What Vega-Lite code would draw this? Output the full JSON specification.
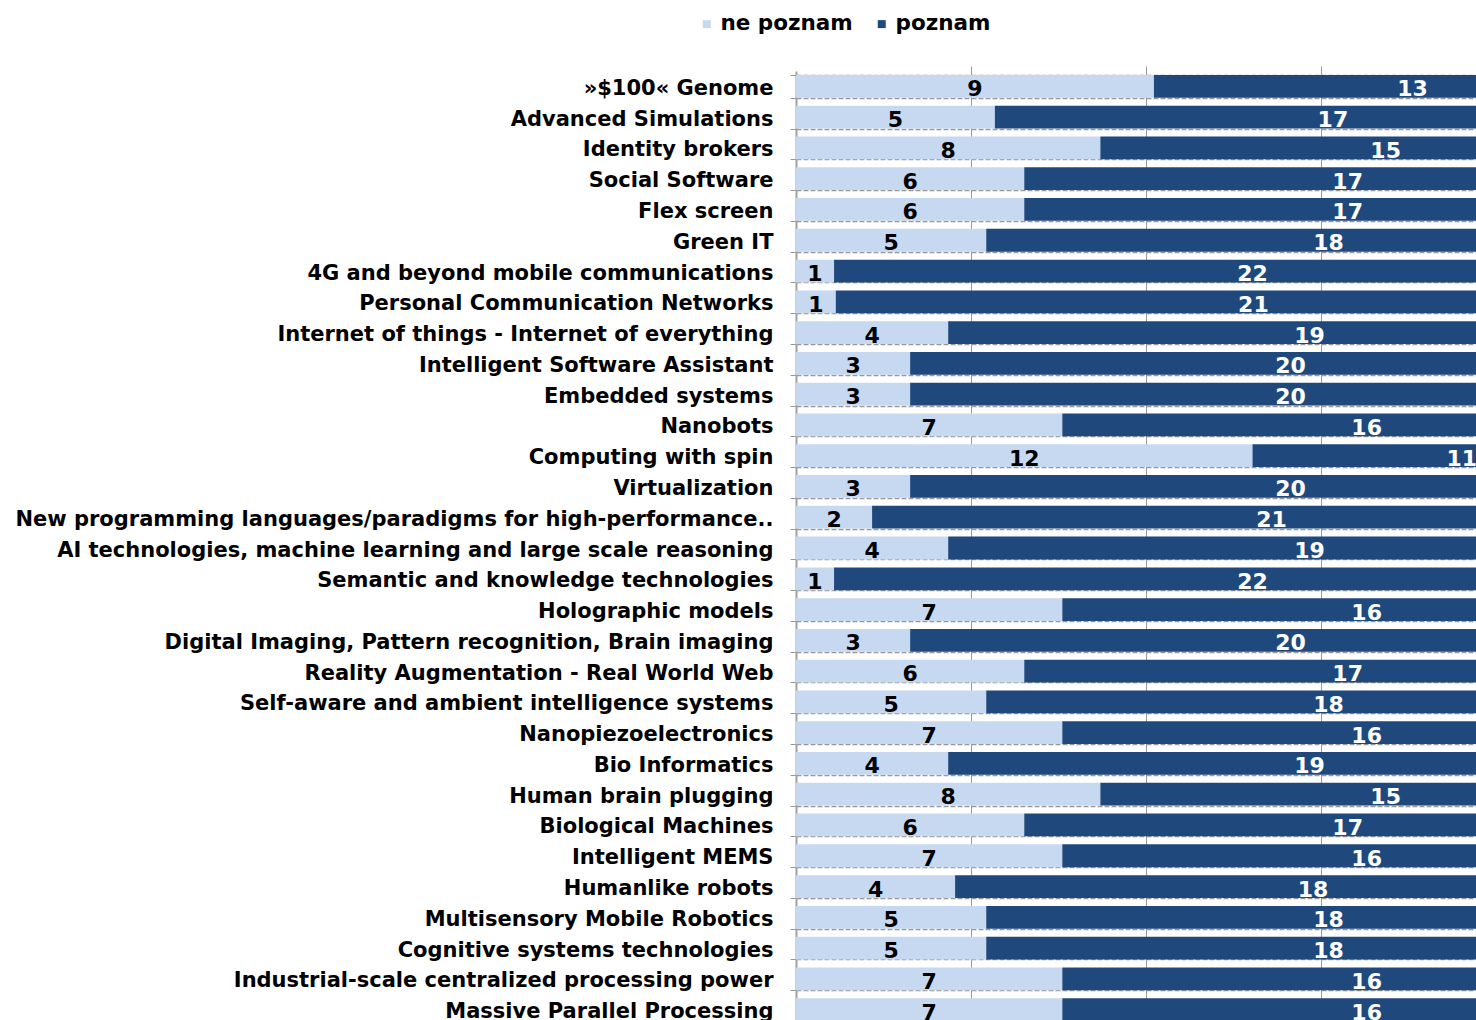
{
  "$schema": "https://vega.github.io/schema/vega-lite/v6.json",
  "autosize": {"type": "none"},
  "padding": {"left": 796, "top": 71, "right": 0, "bottom": 0},
  "width": 680,
  "height": 949,
  "background": "white",
  "config": {"view": {"stroke": null}},
  "data": {"values": [
    {"cat": "»$100« Genome", "series": "ne poznam", "v": 9}, {"cat": "»$100« Genome", "series": "poznam", "v": 13},
    {"cat": "Advanced Simulations", "series": "ne poznam", "v": 5}, {"cat": "Advanced Simulations", "series": "poznam", "v": 17},
    {"cat": "Identity brokers", "series": "ne poznam", "v": 8}, {"cat": "Identity brokers", "series": "poznam", "v": 15},
    {"cat": "Social Software", "series": "ne poznam", "v": 6}, {"cat": "Social Software", "series": "poznam", "v": 17},
    {"cat": "Flex screen", "series": "ne poznam", "v": 6}, {"cat": "Flex screen", "series": "poznam", "v": 17},
    {"cat": "Green IT", "series": "ne poznam", "v": 5}, {"cat": "Green IT", "series": "poznam", "v": 18},
    {"cat": "4G and beyond mobile communications", "series": "ne poznam", "v": 1}, {"cat": "4G and beyond mobile communications", "series": "poznam", "v": 22},
    {"cat": "Personal Communication Networks", "series": "ne poznam", "v": 1}, {"cat": "Personal Communication Networks", "series": "poznam", "v": 21},
    {"cat": "Internet of things - Internet of everything", "series": "ne poznam", "v": 4}, {"cat": "Internet of things - Internet of everything", "series": "poznam", "v": 19},
    {"cat": "Intelligent Software Assistant", "series": "ne poznam", "v": 3}, {"cat": "Intelligent Software Assistant", "series": "poznam", "v": 20},
    {"cat": "Embedded systems", "series": "ne poznam", "v": 3}, {"cat": "Embedded systems", "series": "poznam", "v": 20},
    {"cat": "Nanobots", "series": "ne poznam", "v": 7}, {"cat": "Nanobots", "series": "poznam", "v": 16},
    {"cat": "Computing with spin", "series": "ne poznam", "v": 12}, {"cat": "Computing with spin", "series": "poznam", "v": 11},
    {"cat": "Virtualization", "series": "ne poznam", "v": 3}, {"cat": "Virtualization", "series": "poznam", "v": 20},
    {"cat": "New programming languages/paradigms for high-performance..", "series": "ne poznam", "v": 2}, {"cat": "New programming languages/paradigms for high-performance..", "series": "poznam", "v": 21},
    {"cat": "AI technologies, machine learning and large scale reasoning", "series": "ne poznam", "v": 4}, {"cat": "AI technologies, machine learning and large scale reasoning", "series": "poznam", "v": 19},
    {"cat": "Semantic and knowledge technologies", "series": "ne poznam", "v": 1}, {"cat": "Semantic and knowledge technologies", "series": "poznam", "v": 22},
    {"cat": "Holographic models", "series": "ne poznam", "v": 7}, {"cat": "Holographic models", "series": "poznam", "v": 16},
    {"cat": "Digital Imaging, Pattern recognition, Brain imaging", "series": "ne poznam", "v": 3}, {"cat": "Digital Imaging, Pattern recognition, Brain imaging", "series": "poznam", "v": 20},
    {"cat": "Reality Augmentation - Real World Web", "series": "ne poznam", "v": 6}, {"cat": "Reality Augmentation - Real World Web", "series": "poznam", "v": 17},
    {"cat": "Self-aware and ambient intelligence systems", "series": "ne poznam", "v": 5}, {"cat": "Self-aware and ambient intelligence systems", "series": "poznam", "v": 18},
    {"cat": "Nanopiezoelectronics", "series": "ne poznam", "v": 7}, {"cat": "Nanopiezoelectronics", "series": "poznam", "v": 16},
    {"cat": "Bio Informatics", "series": "ne poznam", "v": 4}, {"cat": "Bio Informatics", "series": "poznam", "v": 19},
    {"cat": "Human brain plugging", "series": "ne poznam", "v": 8}, {"cat": "Human brain plugging", "series": "poznam", "v": 15},
    {"cat": "Biological Machines", "series": "ne poznam", "v": 6}, {"cat": "Biological Machines", "series": "poznam", "v": 17},
    {"cat": "Intelligent MEMS", "series": "ne poznam", "v": 7}, {"cat": "Intelligent MEMS", "series": "poznam", "v": 16},
    {"cat": "Humanlike robots", "series": "ne poznam", "v": 4}, {"cat": "Humanlike robots", "series": "poznam", "v": 18},
    {"cat": "Multisensory Mobile Robotics", "series": "ne poznam", "v": 5}, {"cat": "Multisensory Mobile Robotics", "series": "poznam", "v": 18},
    {"cat": "Cognitive systems technologies", "series": "ne poznam", "v": 5}, {"cat": "Cognitive systems technologies", "series": "poznam", "v": 18},
    {"cat": "Industrial-scale centralized processing power", "series": "ne poznam", "v": 7}, {"cat": "Industrial-scale centralized processing power", "series": "poznam", "v": 16},
    {"cat": "Massive Parallel  Processing", "series": "ne poznam", "v": 7}, {"cat": "Massive Parallel  Processing", "series": "poznam", "v": 16}
  ]},
  "transform": [
    {"stack": "v", "groupby": ["cat"], "sort": [{"field": "series", "order": "ascending"}], "offset": "normalize", "as": ["s", "e"]}
  ],
  "layer": [
    {
      "mark": {"type": "bar", "clip": true},
      "encoding": {
        "y": {
          "field": "cat", "type": "nominal",
          "sort": ["»$100« Genome", "Advanced Simulations", "Identity brokers", "Social Software", "Flex screen", "Green IT", "4G and beyond mobile communications", "Personal Communication Networks", "Internet of things - Internet of everything", "Intelligent Software Assistant", "Embedded systems", "Nanobots", "Computing with spin", "Virtualization", "New programming languages/paradigms for high-performance..", "AI technologies, machine learning and large scale reasoning", "Semantic and knowledge technologies", "Holographic models", "Digital Imaging, Pattern recognition, Brain imaging", "Reality Augmentation - Real World Web", "Self-aware and ambient intelligence systems", "Nanopiezoelectronics", "Bio Informatics", "Human brain plugging", "Biological Machines", "Intelligent MEMS", "Humanlike robots", "Multisensory Mobile Robotics", "Cognitive systems technologies", "Industrial-scale centralized processing power", "Massive Parallel  Processing"],
          "scale": {"range": [0, 954], "paddingInner": 0.26, "paddingOuter": 0.13},
          "axis": {
            "title": null, "labelFont": "DejaVu Sans", "labelFontWeight": "bold", "labelFontSize": 21, "labelColor": "black",
            "labelPadding": 17, "labelLimit": 900, "labelOffset": 2, "tickBand": "extent", "tickSize": 6, "tickColor": "#999999",
            "domainColor": "#a0a0a0", "domainWidth": 2, "grid": true, "gridColor": "#999999", "gridDash": [5, 2], "gridWidth": 1.5, "zindex": 0
          }
        },
        "x": {
          "field": "s", "type": "quantitative",
          "scale": {"domain": [0, 1], "range": [0, 875]},
          "axis": {"title": null, "labels": false, "ticks": false, "domain": false, "grid": true, "values": [0.2, 0.4, 0.6, 0.8], "gridColor": "#999999", "gridWidth": 1, "zindex": 0}
        },
        "x2": {"field": "e"},
        "color": {
          "field": "series", "type": "nominal",
          "scale": {"domain": ["ne poznam", "poznam"], "range": ["#C6D9F1", "#1F497D"]},
          "legend": {
            "orient": "none", "legendX": -100, "legendY": -58, "direction": "horizontal", "title": null,
            "symbolType": "square", "symbolSize": 64, "symbolStrokeWidth": 0,
            "labelFont": "DejaVu Sans", "labelFontWeight": "bold", "labelFontSize": 21.5, "labelColor": "black",
            "labelOffset": 3, "columnPadding": 18
          }
        }
      }
    },
    {
      "transform": [
        {"fold": ["s", "e"], "as": ["k", "pos"]},
        {"aggregate": [{"op": "mean", "field": "pos", "as": "mid"}, {"op": "max", "field": "v", "as": "v"}], "groupby": ["cat", "series"]}
      ],
      "mark": {"type": "text", "font": "DejaVu Sans", "fontWeight": "bold", "fontSize": 22, "baseline": "middle", "dy": 3},
      "encoding": {
        "y": {
          "field": "cat", "type": "nominal",
          "sort": ["»$100« Genome", "Advanced Simulations", "Identity brokers", "Social Software", "Flex screen", "Green IT", "4G and beyond mobile communications", "Personal Communication Networks", "Internet of things - Internet of everything", "Intelligent Software Assistant", "Embedded systems", "Nanobots", "Computing with spin", "Virtualization", "New programming languages/paradigms for high-performance..", "AI technologies, machine learning and large scale reasoning", "Semantic and knowledge technologies", "Holographic models", "Digital Imaging, Pattern recognition, Brain imaging", "Reality Augmentation - Real World Web", "Self-aware and ambient intelligence systems", "Nanopiezoelectronics", "Bio Informatics", "Human brain plugging", "Biological Machines", "Intelligent MEMS", "Humanlike robots", "Multisensory Mobile Robotics", "Cognitive systems technologies", "Industrial-scale centralized processing power", "Massive Parallel  Processing"]
        },
        "x": {"field": "mid", "type": "quantitative"},
        "text": {"field": "v", "type": "quantitative"},
        "color": {"condition": {"test": "datum.series === 'poznam'", "value": "white"}, "value": "black"}
      }
    }
  ]
}
